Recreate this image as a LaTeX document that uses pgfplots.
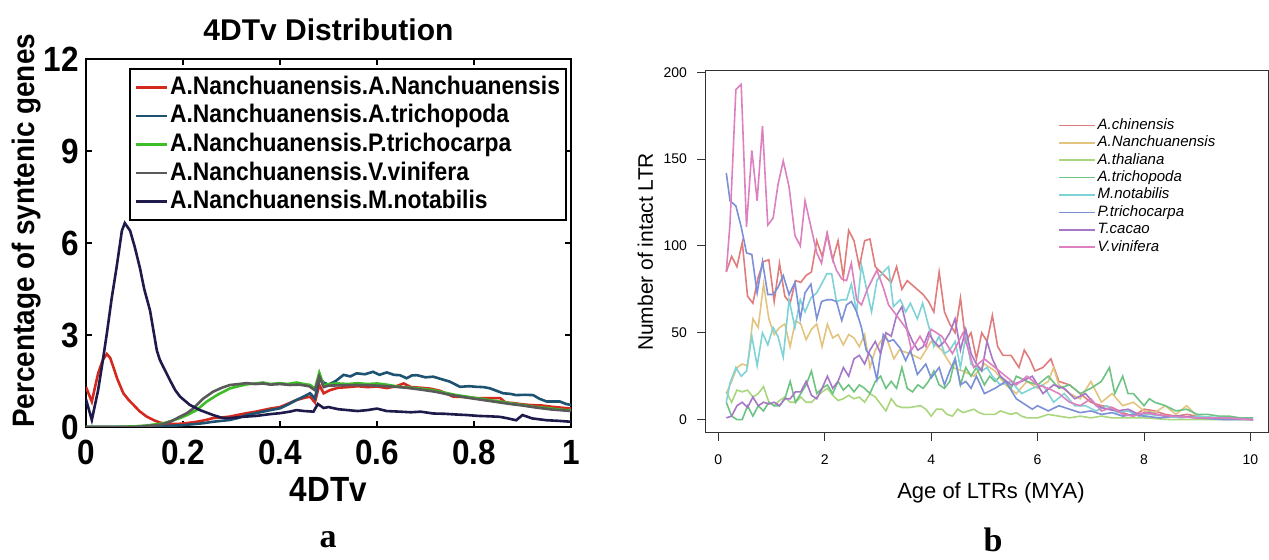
\documentclass[border=0pt]{standalone}
\usepackage{fontspec}
\setmainfont{Liberation Sans}
\newfontfamily\cond[FakeStretch=0.9]{Liberation Sans}
\newfontfamily\serifb{Liberation Serif}
\usepackage{pgfplots}
\pgfplotsset{compat=1.18}
\definecolor{aRed}{HTML}{D4291E}
\definecolor{aTeal}{HTML}{1D5270}
\definecolor{aGreen}{HTML}{3DBE28}
\definecolor{aGray}{HTML}{5A5A5A}
\definecolor{aNavy}{HTML}{1E1B4B}
\definecolor{bChin}{HTML}{E17C7C}
\definecolor{bNanc}{HTML}{E3C47F}
\definecolor{bThal}{HTML}{A9D67E}
\definecolor{bTric}{HTML}{6DC382}
\definecolor{bNota}{HTML}{7FD3D6}
\definecolor{bPtri}{HTML}{7C90D8}
\definecolor{bCaca}{HTML}{A677C6}
\definecolor{bVini}{HTML}{DC80C0}
\tikzset{aline/.style={line width=1.3pt}, bline/.style={line width=0.8pt}}

\begin{document}
\begin{tikzpicture}
% ---------------- panel a ----------------
\begin{axis}[
    at={(43pt,66.5pt)}, anchor=south west,
    scale only axis, width=242.5pt, height=184pt,
    xmin=0, xmax=1, ymin=0, ymax=12,
    xtick={0,0.2,0.4,0.6,0.8,1}, xticklabels={0,0.2,0.4,0.6,0.8,1},
    ytick={0,3,6,9,12}, yticklabels={0,3,6,9,12},
    tick align=inside, major tick length=3pt,
    every tick/.style={black, line width=1pt},
    axis line style={line width=1.2pt},
    tick label style={font=\cond\bfseries\fontsize{17.5}{17.5}\selectfont},
    xticklabel style={yshift=-3pt},
    title={4DTv Distribution},
    title style={at={(axis description cs:0.5,1)}, anchor=center, yshift=8.5pt,
        font=\bfseries\fontsize{15}{15}\selectfont},
    xlabel={4DTv},
    xlabel style={at={(axis description cs:0.5,-0.171)}, anchor=center,
        font=\cond\bfseries\fontsize{17.5}{17.5}\selectfont},
    ylabel={Percentage of syntenic genes},
    ylabel style={at={(axis description cs:-0.122,0.533)}, anchor=center,
        font=\cond\bfseries\fontsize{15.5}{15.5}\selectfont},
    legend style={at={(1,1)}, anchor=north east, xshift=-2pt, yshift=-4.5pt,
        draw=black, line width=1pt, inner sep=2pt,
        font=\cond\bfseries\fontsize{12.7}{12.7}\selectfont,
        cells={anchor=west},
        nodes={inner sep=1pt, text height=9.7pt, text depth=2.6pt}},
    legend image code/.code={\draw[#1] (0pt,0pt) -- (15.5pt,0pt);},
]
\addplot[aRed, aline] coordinates {
(0,1.3)(0.012,0.83)(0.025,1.75)(0.035,2.2)(0.043,2.38)(0.05,2.25)(0.056,1.97)
(0.065,1.55)(0.077,1.1)(0.088,0.88)(0.098,0.72)(0.11,0.52)(0.125,0.34)(0.14,0.22)
(0.153,0.14)(0.17,0.1)(0.19,0.1)(0.21,0.13)(0.228,0.17)(0.245,0.22)(0.262,0.29)
(0.28,0.31)(0.297,0.34)(0.315,0.4)(0.331,0.45)(0.35,0.5)(0.365,0.55)(0.38,0.6)
(0.4,0.65)(0.415,0.75)(0.434,0.88)(0.45,0.95)(0.462,0.99)(0.472,0.8)(0.481,1.37)
(0.49,1.1)(0.503,1.2)(0.52,1.28)(0.54,1.3)(0.56,1.33)(0.58,1.3)(0.6,1.32)(0.62,1.27)
(0.64,1.33)(0.655,1.42)(0.67,1.3)(0.69,1.28)(0.71,1.25)(0.73,1.18)(0.757,0.99)
(0.78,0.98)(0.8,0.94)(0.83,0.94)(0.854,0.94)(0.865,0.8)(0.88,0.78)(0.9,0.74)
(0.92,0.71)(0.94,0.7)(0.96,0.66)(0.98,0.63)(1.0,0.6)
};
\addlegendentry{A.Nanchuanensis.A.Nanchuanensis}
\addplot[aTeal, aline] coordinates {
(0,0)(0.05,0)(0.1,0)(0.15,0.02)(0.2,0.06)(0.24,0.12)(0.262,0.17)(0.297,0.23)
(0.315,0.3)(0.331,0.39)(0.35,0.45)(0.365,0.5)(0.38,0.55)(0.4,0.61)(0.415,0.72)
(0.434,0.88)(0.45,1.0)(0.462,1.1)(0.472,0.93)(0.481,1.6)(0.49,1.45)(0.5,1.38)
(0.515,1.5)(0.531,1.7)(0.545,1.65)(0.558,1.75)(0.575,1.72)(0.592,1.8)(0.605,1.7)
(0.62,1.78)(0.635,1.7)(0.647,1.69)(0.661,1.59)(0.672,1.68)(0.682,1.69)(0.7,1.62)
(0.716,1.64)(0.735,1.55)(0.75,1.48)(0.771,1.31)(0.79,1.33)(0.805,1.31)(0.82,1.3)
(0.833,1.26)(0.86,1.1)(0.875,1.08)(0.887,1.04)(0.905,1.05)(0.922,1.04)(0.935,0.92)
(0.95,0.83)(0.977,0.83)(0.99,0.75)(1.0,0.72)
};
\addlegendentry{A.Nanchuanensis.A.trichopoda}
\addplot[aGreen, aline] coordinates {
(0,0)(0.05,0)(0.1,0.02)(0.125,0.05)(0.16,0.12)(0.194,0.29)(0.21,0.4)(0.228,0.55)
(0.249,0.83)(0.27,1.04)(0.297,1.26)(0.315,1.33)(0.331,1.39)(0.35,1.42)(0.365,1.45)
(0.38,1.4)(0.4,1.43)(0.415,1.4)(0.434,1.45)(0.45,1.4)(0.462,1.37)(0.472,1.25)
(0.481,1.77)(0.49,1.35)(0.5,1.4)(0.52,1.42)(0.54,1.4)(0.56,1.43)(0.58,1.4)(0.6,1.42)
(0.62,1.38)(0.647,1.31)(0.67,1.28)(0.69,1.25)(0.716,1.2)(0.74,1.12)(0.76,1.05)
(0.785,0.99)(0.81,0.93)(0.83,0.88)(0.854,0.83)(0.88,0.76)(0.9,0.72)(0.922,0.66)
(0.95,0.62)(0.97,0.58)(0.991,0.55)(1.0,0.55)
};
\addlegendentry{A.Nanchuanensis.P.trichocarpa}
\addplot[aGray, aline] coordinates {
(0,0)(0.1,0)(0.153,0.07)(0.175,0.18)(0.194,0.34)(0.208,0.45)(0.221,0.6)(0.242,0.93)
(0.262,1.15)(0.28,1.28)(0.297,1.37)(0.315,1.4)(0.331,1.43)(0.35,1.4)(0.365,1.42)
(0.38,1.38)(0.4,1.4)(0.42,1.37)(0.44,1.38)(0.46,1.33)(0.472,1.2)(0.481,1.65)(0.49,1.3)
(0.5,1.35)(0.53,1.36)(0.56,1.37)(0.6,1.35)(0.63,1.32)(0.66,1.28)(0.69,1.22)(0.72,1.15)
(0.75,1.05)(0.78,0.97)(0.81,0.9)(0.84,0.83)(0.87,0.76)(0.9,0.7)(0.93,0.63)(0.96,0.57)
(1.0,0.52)
};
\addlegendentry{A.Nanchuanensis.V.vinifera}
\addplot[aNavy, aline] coordinates {
(0,0.9)(0.012,0.23)(0.025,1.2)(0.035,2.2)(0.043,3.05)(0.053,4.2)(0.063,5.2)(0.074,6.4)
(0.08,6.65)(0.091,6.4)(0.1,5.9)(0.111,5.2)(0.12,4.5)(0.132,3.8)(0.146,2.5)(0.152,2.2)
(0.159,1.97)(0.173,1.53)(0.184,1.2)(0.194,0.99)(0.214,0.72)(0.235,0.55)(0.262,0.39)
(0.28,0.3)(0.297,0.29)(0.315,0.32)(0.331,0.34)(0.35,0.36)(0.365,0.39)(0.38,0.42)
(0.4,0.45)(0.42,0.5)(0.434,0.55)(0.45,0.52)(0.469,0.5)(0.478,0.75)(0.49,0.62)(0.5,0.65)
(0.52,0.58)(0.54,0.55)(0.56,0.52)(0.58,0.55)(0.6,0.6)(0.62,0.52)(0.647,0.5)(0.67,0.48)
(0.69,0.5)(0.716,0.44)(0.74,0.43)(0.76,0.41)(0.785,0.39)(0.81,0.36)(0.83,0.35)
(0.854,0.33)(0.87,0.28)(0.887,0.22)(0.9,0.39)(0.92,0.28)(0.95,0.22)(0.975,0.2)(1.0,0.17)
};
\addlegendentry{A.Nanchuanensis.M.notabilis}
\end{axis}

% ---------------- panel b ----------------
\begin{axis}[
    at={(352.5pt,63.5pt)}, anchor=south west,
    scale only axis, width=281.5pt, height=181pt,
    xmin=-0.25, xmax=10.33, ymin=-7.7, ymax=200.7,
    xtick={0,2,4,6,8,10}, ytick={0,50,100,150,200},
    tick align=outside, tick pos=left, major tick length=4pt,
    every tick/.style={black!80, line width=0.5pt},
    axis line style={black!80, line width=0.5pt},
    /pgf/number format/assume math mode=true,
    tick label style={font=\fontsize{7}{7}\selectfont},
    xticklabel style={yshift=-3.5pt},
    yticklabel style={xshift=-1.5pt},
    xlabel={Age of LTRs (MYA)},
    xlabel style={at={(axis description cs:0.508,-0.166)}, anchor=center,
        font=\fontsize{11}{11}\selectfont},
    ylabel={Number of intact LTR},
    ylabel style={at={(axis description cs:-0.106,0.5)}, anchor=center,
        font=\fontsize{10.5}{10.5}\selectfont},
    legend style={at={(axis description cs:0.627,0.875)}, anchor=north west,
        draw=none, fill=none, inner sep=0pt,
        font=\itshape\fontsize{7.5}{7.5}\selectfont,
        cells={anchor=west},
        nodes={inner sep=0.85pt, text height=5.5pt, text depth=1.5pt}},
    legend image code/.code={\draw[#1] (0pt,0pt) -- (13.5pt,0pt); \path (0pt,0pt) -- (18pt,0pt);},
]
\addplot[bChin, bline] coordinates {
(0.15,85)(0.25,94)(0.35,88)(0.45,102)(0.55,71)(0.65,67)(0.75,82)(0.85,91)(0.95,92)
(1.05,68)(1.15,90)(1.25,71)(1.35,67)(1.45,80)(1.55,79)(1.65,83)(1.75,85)(1.85,103)
(1.95,94)(2.05,107)(2.15,92)(2.25,103)(2.35,82)(2.45,109)(2.55,103)(2.65,88)(2.75,103)
(2.85,104)(2.95,88)(3.05,85)(3.15,82)(3.25,79)(3.35,88)(3.45,75)(3.55,80)(3.7,76)
(3.85,72)(3.95,68)(4.05,62)(4.15,85)(4.25,62)(4.35,55)(4.45,50)(4.55,70)(4.65,45)
(4.75,50)(4.85,35)(4.95,50)(5.05,45)(5.15,60)(5.25,42)(5.35,37)(5.5,37)(5.65,30)
(5.75,40)(5.85,35)(5.95,28)(6.1,30)(6.25,35)(6.4,22)(6.6,20)(6.8,15)(7.0,10)(7.2,8)
(7.4,7)(7.6,4)(7.8,2)(8.0,6)(8.2,5)(8.4,3)(8.6,2)(8.8,3)(9.0,2)(9.3,1)(9.6,1)(10.05,0)
};
\addlegendentry{A.chinensis}
\addplot[bNanc, bline] coordinates {
(0.15,15)(0.25,22)(0.35,30)(0.45,32)(0.55,31)(0.65,58)(0.75,53)(0.85,78)(0.95,58)
(1.05,49)(1.15,53)(1.25,55)(1.35,42)(1.45,57)(1.55,55)(1.65,46)(1.75,52)(1.85,55)
(1.95,42)(2.05,55)(2.15,47)(2.25,49)(2.35,43)(2.45,49)(2.55,47)(2.65,42)(2.75,49)
(2.85,30)(2.95,40)(3.05,45)(3.15,48)(3.3,35)(3.4,40)(3.6,38)(3.8,35)(4.0,45)(4.2,40)
(4.4,30)(4.6,28)(4.8,25)(5.0,32)(5.2,28)(5.4,20)(5.6,15)(5.8,22)(6.0,18)(6.2,22)
(6.3,30)(6.4,20)(6.6,15)(6.8,12)(7.0,22)(7.2,10)(7.4,15)(7.6,8)(7.8,10)(8.0,5)(8.2,4)
(8.4,8)(8.6,3)(8.8,8)(9.0,2)(9.3,1)(9.6,1)(10.05,0)
};
\addlegendentry{A.Nanchuanensis}
\addplot[bThal, bline] coordinates {
(0.15,16)(0.25,10)(0.35,17)(0.45,16)(0.55,17)(0.65,13)(0.75,15)(0.85,19)(0.95,10)
(1.05,8)(1.15,11)(1.25,13)(1.35,10)(1.45,10)(1.55,13)(1.65,10)(1.75,10)(1.85,13)
(1.95,16)(2.05,18)(2.15,14)(2.25,11)(2.35,12)(2.45,14)(2.55,12)(2.65,13)(2.75,10)
(2.85,15)(2.95,13)(3.05,9)(3.15,5)(3.25,12)(3.35,8)(3.45,7)(3.6,7)(3.8,8)(3.9,6)
(4.0,2)(4.1,6)(4.2,6)(4.3,3)(4.4,2)(4.5,6)(4.6,4)(4.7,5)(4.8,6)(4.9,4)(5.0,3)(5.2,3)
(5.3,5)(5.5,3)(5.6,4)(5.7,2)(5.8,1)(6.0,1)(6.2,3)(6.4,2)(6.6,1)(6.8,2)(7.0,1)(7.2,2)
(7.4,1)(7.6,1)(8.0,1)(8.5,0)(9.0,0)(10.05,0)
};
\addlegendentry{A.thaliana}
\addplot[bTric, bline] coordinates {
(0.15,10)(0.25,2)(0.35,0)(0.45,0)(0.55,8)(0.65,2)(0.75,8)(0.85,5)(0.95,10)(1.05,8)
(1.15,8)(1.25,12)(1.35,22)(1.45,10)(1.55,15)(1.65,20)(1.75,28)(1.85,15)(1.95,18)
(2.05,20)(2.15,15)(2.25,22)(2.35,17)(2.45,20)(2.55,16)(2.65,20)(2.75,18)(2.85,15)
(2.95,22)(3.05,25)(3.15,18)(3.25,22)(3.35,18)(3.45,30)(3.55,18)(3.65,16)(3.75,20)
(3.85,18)(3.95,22)(4.05,28)(4.15,20)(4.25,18)(4.35,22)(4.45,35)(4.55,20)(4.65,30)
(4.75,25)(4.85,30)(5.0,20)(5.1,25)(5.2,22)(5.3,25)(5.5,18)(5.6,25)(5.8,22)(6.0,20)
(6.2,25)(6.4,18)(6.6,20)(6.8,15)(7.0,18)(7.2,22)(7.35,30)(7.45,15)(7.6,25)(7.7,15)
(7.8,15)(8.0,8)(8.1,12)(8.2,10)(8.4,8)(8.6,5)(8.8,6)(9.0,3)(9.2,3)(9.4,2)(9.6,2)
(9.8,1)(10.05,1)
};
\addlegendentry{A.trichopoda}
\addplot[bNota, bline] coordinates {
(0.15,10)(0.22,21)(0.33,30)(0.43,25)(0.53,28)(0.63,48)(0.73,31)(0.83,50)(0.93,43)
(1.03,53)(1.12,48)(1.22,36)(1.33,69)(1.44,53)(1.54,69)(1.63,62)(1.74,70)(1.85,73)
(1.94,78)(2.04,84)(2.13,84)(2.22,68)(2.32,69)(2.41,69)(2.5,78)(2.6,62)(2.69,89)
(2.78,76)(2.88,62)(2.98,80)(3.1,85)(3.2,88)(3.29,65)(3.42,69)(3.52,62)(3.61,67)
(3.74,58)(3.84,67)(3.96,53)(4.05,42)(4.15,48)(4.25,38)(4.35,40)(4.45,45)(4.55,30)
(4.65,48)(4.75,32)(4.85,30)(4.95,28)(5.05,30)(5.15,25)(5.3,20)(5.5,22)(5.7,15)
(5.9,18)(6.1,20)(6.3,10)(6.5,15)(6.7,8)(6.9,8)(7.1,5)(7.3,8)(7.5,4)(7.7,5)(7.9,2)
(8.1,3)(8.4,2)(8.7,1)(9.0,2)(9.5,1)(10.05,0)
};
\addlegendentry{M.notabilis}
\addplot[bPtri, bline] coordinates {
(0.15,142)(0.22,126)(0.33,123)(0.43,111)(0.53,96)(0.63,95)(0.73,73)(0.83,91)(0.93,72)
(1.03,72)(1.12,76)(1.22,83)(1.33,72)(1.44,79)(1.54,58)(1.63,73)(1.74,78)(1.85,58)
(1.94,68)(2.04,69)(2.13,69)(2.22,68)(2.32,57)(2.41,66)(2.5,68)(2.6,62)(2.69,53)
(2.78,40)(2.88,36)(2.98,23)(3.1,49)(3.2,45)(3.29,46)(3.42,41)(3.52,34)(3.61,40)
(3.74,26)(3.9,32)(4.0,24)(4.15,30)(4.25,20)(4.35,28)(4.45,35)(4.55,20)(4.65,22)
(4.75,18)(4.85,25)(5.0,15)(5.2,18)(5.4,22)(5.6,12)(5.8,8)(5.9,6)(6.0,8)(6.2,5)(6.4,8)
(6.6,6)(6.8,4)(7.0,5)(7.2,3)(7.4,4)(7.6,2)(7.8,3)(8.0,2)(8.3,1)(8.6,2)(9.0,1)(9.5,0)
(10.05,0)
};
\addlegendentry{P.trichocarpa}
\addplot[bCaca, bline] coordinates {
(0.15,1)(0.25,2)(0.35,8)(0.45,10)(0.55,7)(0.65,13)(0.75,8)(0.85,10)(0.95,9)(1.05,10)
(1.15,8)(1.25,12)(1.35,12)(1.45,16)(1.55,16)(1.65,22)(1.75,14)(1.85,12)(1.95,18)
(2.05,25)(2.15,18)(2.25,22)(2.35,30)(2.45,25)(2.55,35)(2.65,37)(2.75,32)(2.85,40)
(2.95,45)(3.05,38)(3.15,50)(3.25,48)(3.35,60)(3.45,65)(3.55,52)(3.65,45)(3.75,40)
(3.85,42)(3.95,50)(4.05,45)(4.15,42)(4.25,45)(4.35,50)(4.45,58)(4.55,40)(4.65,52)
(4.75,38)(4.85,32)(4.95,28)(5.05,45)(5.15,35)(5.3,25)(5.5,20)(5.7,22)(5.9,25)(6.1,15)
(6.3,20)(6.5,18)(6.7,12)(6.9,15)(7.1,8)(7.3,6)(7.5,5)(7.7,6)(7.9,3)(8.1,4)(8.4,2)
(8.7,2)(9.0,1)(9.5,1)(10.05,0)
};
\addlegendentry{T.cacao}
\addplot[bVini, bline] coordinates {
(0.15,85)(0.22,113)(0.33,190)(0.43,193)(0.53,111)(0.63,155)(0.73,126)(0.83,169)
(0.93,112)(1.03,116)(1.12,135)(1.22,149)(1.33,134)(1.44,106)(1.54,100)(1.63,126)
(1.74,111)(1.85,96)(1.94,90)(2.04,107)(2.13,94)(2.22,86)(2.32,81)(2.41,80)(2.5,90)
(2.6,69)(2.69,66)(2.8,75)(2.98,86)(3.1,76)(3.2,66)(3.35,60)(3.54,52)(3.63,40)(3.79,48)
(3.9,42)(4.0,52)(4.2,48)(4.4,38)(4.6,50)(4.8,30)(5.0,35)(5.2,30)(5.4,25)(5.6,20)
(5.8,25)(6.0,20)(6.2,18)(6.4,15)(6.6,10)(6.8,8)(7.0,12)(7.2,5)(7.4,7)(7.6,3)(7.8,2)
(8.0,4)(8.2,3)(8.5,2)(9.0,1)(9.5,1)(10.05,0)
};
\addlegendentry{V.vinifera}
\end{axis}

\node[font=\serifb\bfseries\fontsize{17}{17}\selectfont] at (164pt,10pt) {a};
\node[font=\serifb\bfseries\fontsize{17}{17}\selectfont] at (496.5pt,10pt) {b};

\pgfresetboundingbox
\path (0pt,0pt) rectangle (634.5pt,280pt);
\end{tikzpicture}
\end{document}
